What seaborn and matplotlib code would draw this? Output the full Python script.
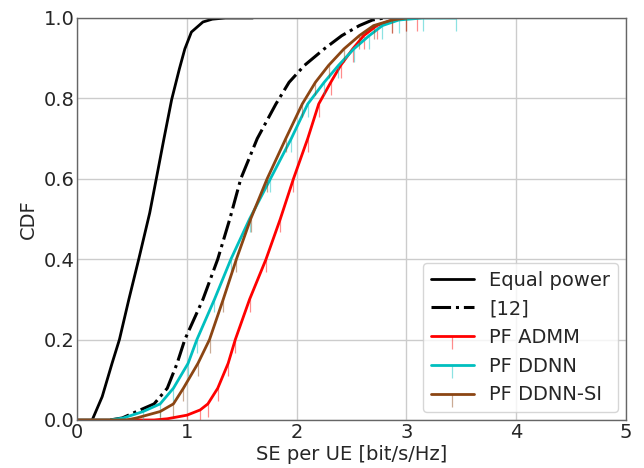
import matplotlib
matplotlib.use("Agg")
import matplotlib.pyplot as plt
import seaborn as sns

# ---- data (CDF level -> SE value) ----
eq_cdf = [0, 0.058, 0.141, 0.2, 0.3, 0.4, 0.515, 0.6, 0.7, 0.797, 0.873, 0.923, 0.965, 0.99, 0.997, 1.0, 1.0]
eq_se = [0.136, 0.227, 0.317, 0.384, 0.47, 0.56, 0.66, 0.72, 0.79, 0.86, 0.93, 0.98, 1.04, 1.145, 1.23, 1.35, 1.60]

ref_cdf = [0, 0.005, 0.021, 0.04, 0.079, 0.141, 0.2, 0.3, 0.4, 0.5, 0.6, 0.7, 0.786, 0.84, 0.882, 0.923, 0.956, 0.981, 0.995, 1.0]
ref_se = [0.30, 0.41, 0.54, 0.70, 0.82, 0.91, 0.98, 1.145, 1.28, 1.39, 1.49, 1.64, 1.81, 1.93, 2.07, 2.25, 2.41, 2.57, 2.69, 2.80]

admm_cdf = [0, 0, 0.003, 0.012, 0.025, 0.04, 0.079, 0.141, 0.2, 0.3, 0.4, 0.5, 0.6, 0.7, 0.786, 0.84, 0.882, 0.923, 0.956, 0.981, 0.995, 1.0, 1.0]
admm_se = [0.0, 0.70, 0.82, 1.00, 1.12, 1.19, 1.28, 1.375, 1.44, 1.57, 1.72, 1.85, 1.97, 2.10, 2.20, 2.31, 2.40, 2.51, 2.61, 2.73, 2.87, 3.00, 3.10]

ddnn_cdf = [0, 0, 0.005, 0.021, 0.04, 0.079, 0.141, 0.2, 0.3, 0.4, 0.5, 0.6, 0.7, 0.786, 0.84, 0.882, 0.923, 0.956, 0.981, 0.995, 1.0, 1.0]
ddnn_se = [0.0, 0.30, 0.42, 0.60, 0.755, 0.876, 1.01, 1.09, 1.25, 1.40, 1.57, 1.76, 1.95, 2.10, 2.25, 2.38, 2.52, 2.66, 2.78, 2.93, 3.15, 3.45]

si_cdf = [0, 0, 0.005, 0.021, 0.04, 0.079, 0.141, 0.2, 0.3, 0.4, 0.5, 0.6, 0.7, 0.786, 0.84, 0.882, 0.923, 0.956, 0.981, 0.995, 1.0]
si_se = [0.0, 0.45, 0.54, 0.755, 0.876, 0.967, 1.10, 1.205, 1.33, 1.45, 1.58, 1.73, 1.90, 2.05, 2.17, 2.29, 2.43, 2.57, 2.70, 2.87, 3.00]

x_ticks = [0, 1, 2, 3, 4, 5]
y_ticks = [0.0, 0.2, 0.4, 0.6, 0.8, 1.0]

sns.set_style("whitegrid")
plt.rcParams["font.family"] = ["DejaVu Sans"]

fig = plt.figure(figsize=(6.44, 4.68), dpi=100)
ax = fig.add_axes([0.12, 0.1026, 0.852, 0.859])

sns.lineplot(x=eq_se, y=eq_cdf, sort=False, estimator=None, ax=ax,
             color="black", lw=2, label="Equal power")
sns.lineplot(x=ref_se, y=ref_cdf, sort=False, estimator=None, ax=ax,
             color="black", lw=2.2, linestyle="-.", label="[12]")

series = [
    (admm_se, admm_cdf, (1.0, 0.0, 0.0), "PF ADMM"),
    (ddnn_se, ddnn_cdf, (0.0, 0.75, 0.75), "PF DDNN"),
    (si_se, si_cdf, (0.545, 0.27, 0.075), "PF DDNN-SI"),
]
for xs, ys, col, lab in series:
    sns.lineplot(x=xs, y=ys, sort=False, estimator=None, ax=ax,
                 color=col, lw=2, marker=3, markersize=9,
                 markeredgewidth=0.9, markeredgecolor=col + (0.45,),
                 label=lab)

ax.set_xlim(0, 5)
ax.set_ylim(0, 1)
ax.set_xticks(x_ticks)
ax.set_yticks(y_ticks)
ax.set_yticklabels([f"{v:.1f}" for v in y_ticks])
ax.tick_params(labelsize=14, length=0, pad=2)
ax.set_xlabel("SE per UE [bit/s/Hz]", fontsize=14, labelpad=2)
ax.set_ylabel("CDF", fontsize=14, labelpad=4)
ax.grid(True, color="#cccccc", lw=1)
for s in ax.spines.values():
    s.set_color("#666666")
    s.set_linewidth(1)

ax.legend(loc="lower right", fontsize=14, frameon=True, framealpha=0.8,
          borderaxespad=0.4, handlelength=2.2)

fig.savefig("out.png", dpi=100)
